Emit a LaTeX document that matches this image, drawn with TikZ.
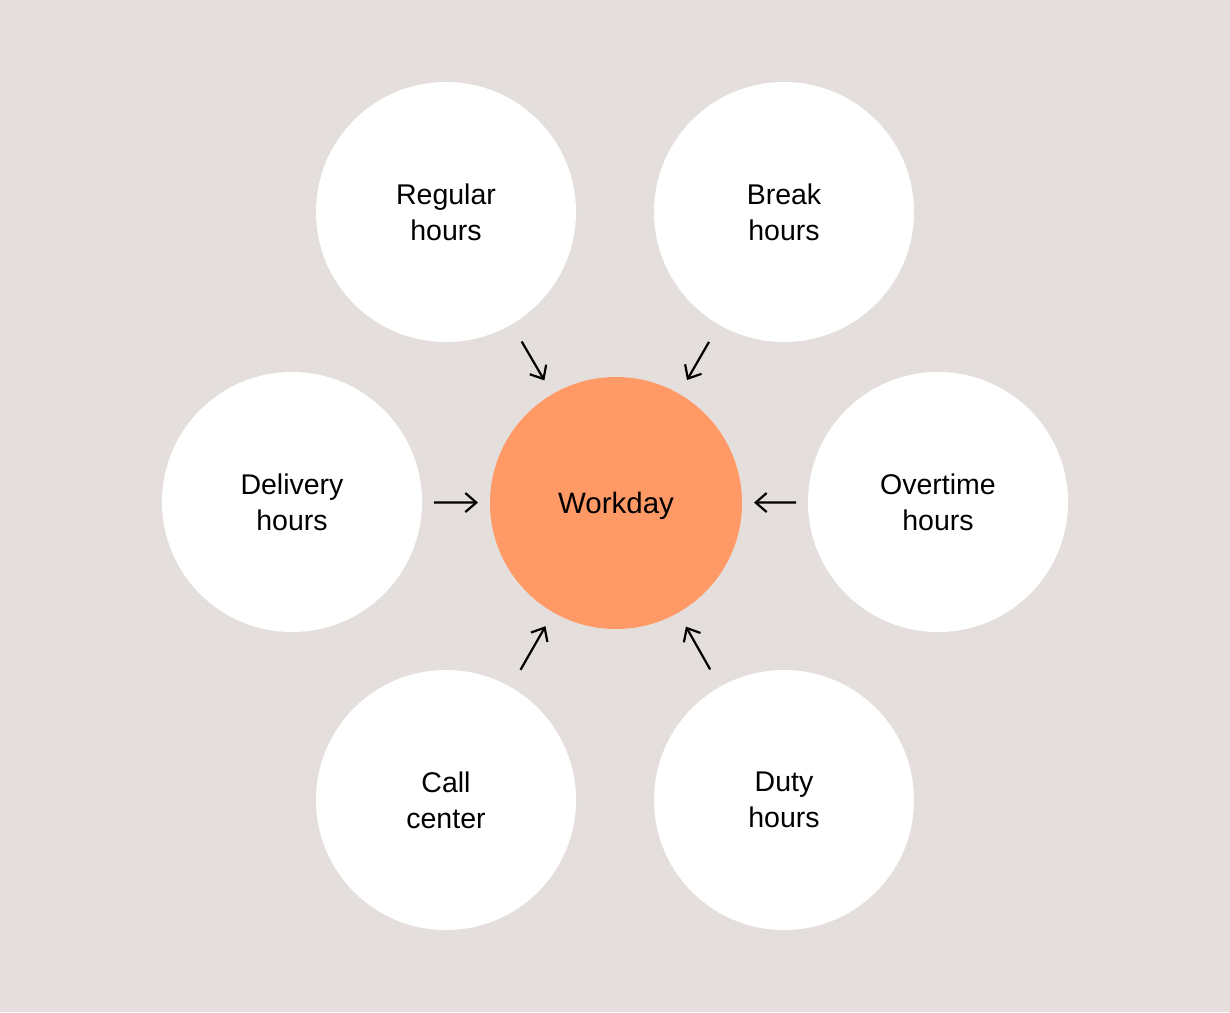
\documentclass[tikz,border=0pt]{standalone}
\usepackage{fontspec}
\setmainfont{Liberation Sans}
\usetikzlibrary{arrows.meta}
\definecolor{bgc}{HTML}{E4DFDC}
\definecolor{orangec}{HTML}{FF9966}
\begin{document}
\begin{tikzpicture}[x=1pt,y=-1pt,
  bubble/.style={circle,fill=white,draw=none,minimum size=260pt,inner sep=0pt,outer sep=0pt,align=center,font=\fontsize{28.5}{36}\selectfont},
  hub/.style={circle,fill=orangec,draw=none,minimum size=252pt,inner sep=0pt,outer sep=0pt,align=center,font=\fontsize{29.5}{36}\selectfont},
  link/.style={line width=2.2pt,-{Straight Barb[length=11pt,width=19pt,line width=2.2pt]}}]
\fill[bgc] (0,0) rectangle (1230,1012);
\useasboundingbox (0,0) rectangle (1230,1012);
\node[hub] (work) at (616,503) {\raisebox{0pt}[\dimexpr\height+6pt\relax][\depth]{Workday}};
\node[bubble] (reg) at (446,212) {Regular\\hours};
\node[bubble] (brk) at (784,212) {Break\\hours};
\node[bubble] (del) at (292,502) {Delivery\\hours};
\node[bubble] (ovt) at (938,502) {Overtime\\hours};
\node[bubble] (call) at (446,800) {Call\\center};
\node[bubble] (duty) at (784,800) {Duty\\hours};
\draw[link,shorten <=20pt,shorten >=16pt] (reg) -- (work);
\draw[link,shorten <=20pt,shorten >=16pt] (brk) -- (work);
\draw[link,shorten <=12pt,shorten >=12pt] (del) -- (work);
\draw[link,shorten <=12pt,shorten >=12pt] (ovt) -- (work);
\draw[link,shorten <=20pt,shorten >=16pt] (call) -- (work);
\draw[link,shorten <=20pt,shorten >=16pt] (duty) -- (work);
\end{tikzpicture}
\end{document}
